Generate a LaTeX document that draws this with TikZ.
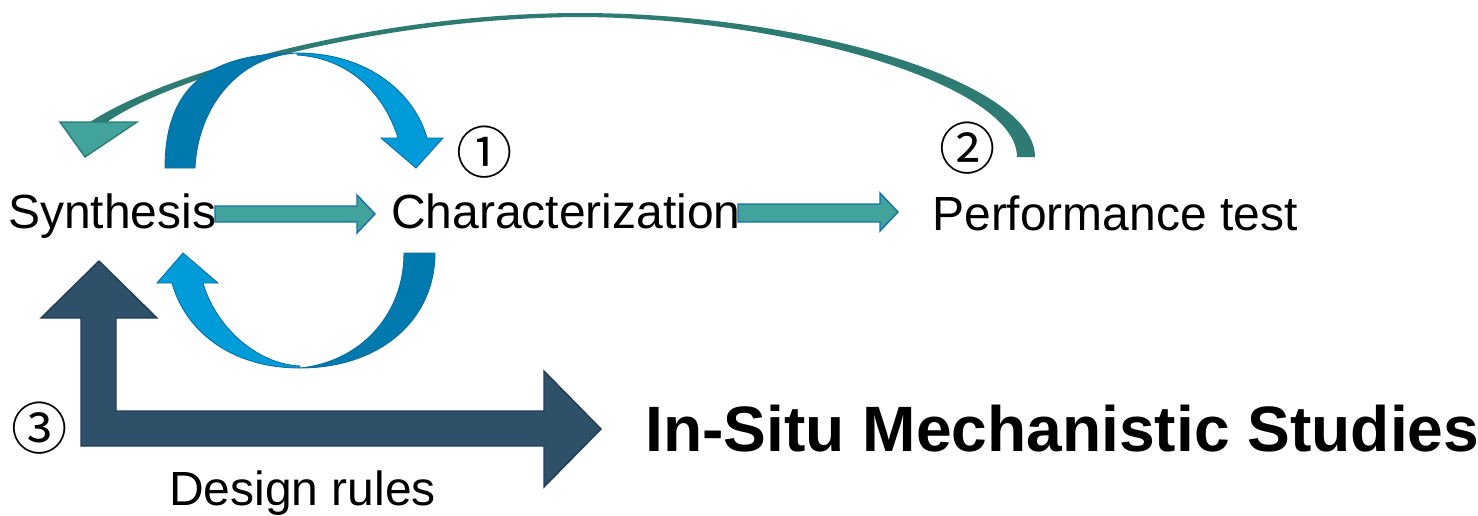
\documentclass[tikz,border=0pt]{standalone}
\usepackage{fontspec}
\setmainfont{Liberation Sans}
\newfontfamily\circfont{Noto Sans CJK SC}
\usepackage{tikz}
\definecolor{arcdark}{HTML}{0079AE}
\definecolor{arclight}{HTML}{009BD9}
\definecolor{arcedge}{HTML}{0A6E9E}
\definecolor{tealfill}{HTML}{42A39C}
\definecolor{tealedge}{HTML}{1C6FA5}
\definecolor{loopteal}{HTML}{2E7B74}
\definecolor{slate}{HTML}{2F5069}
\definecolor{slateedge}{HTML}{223D55}

\begin{document}
\begin{tikzpicture}[x=0.02cm, y=-0.02cm,
    every node/.style={inner sep=0pt, anchor=base west},
    label/.style={font=\fontsize{27.3}{30}\selectfont},
    num/.style={anchor=center, font=\circfont\fontsize{32}{32}\selectfont},
    blockarrow/.style={fill=tealfill, draw=tealedge, line width=0.8pt},
    bluearc/.style={draw=arcedge, line width=0.5pt}]
  \useasboundingbox (0,0) rectangle (1478,515);

  \node[label] (syn) at (8,228) {Synthesis};
  \node[label] (char) at (391,228) {Characterization};
  \node[label] (perf) at (932,230) {Performance test};
  \node[label] (rules) at (169,505) {Design rules};
  \node[font=\bfseries\fontsize{36.5}{40}\selectfont] (studies) at (645,451) {In-Situ Mechanistic Studies};

  \node[num] (n1) at (485,152) {①};
  \node[num] (n2) at (968,148) {②};
  \node[num] (n3) at (40,428) {③};

  \fill[loopteal] (1035,157) .. controls (1035,80) and (800,13) .. (580,13)
    .. controls (380,13) and (170,70) .. (90,122) -- (107,122)
    .. controls (180,72) and (385,18) .. (580,17)
    .. controls (790,18) and (1017,85) .. (1017,157) -- cycle;
  \filldraw[fill=tealfill, draw=loopteal, line width=0.8pt] (60,122) -- (137,122) -- (85,157) -- cycle;

  \filldraw[bluearc, fill=arcdark] (165,168) .. controls (165,90) and (205,53) .. (297,53)
    .. controls (240,56) and (198,105) .. (195,168) -- cycle;
  \filldraw[bluearc, fill=arclight] (297,53) .. controls (370,53) and (415,95) .. (427,138)
    -- (443,138) -- (416,168) -- (381,138) -- (398,138)
    .. controls (385,95) and (350,58) .. (297,55) -- cycle;

  \filldraw[bluearc, fill=arcdark] (435,253) .. controls (435,320) and (380,368) .. (300,368)
    .. controls (360,362) and (404,315) .. (404,253) -- cycle;
  \filldraw[bluearc, fill=arclight] (300,368) .. controls (230,368) and (185,330) .. (172,283)
    -- (157,283) -- (183,253) -- (218,283) -- (203,283)
    .. controls (215,325) and (255,364) .. (300,366) -- cycle;

  \filldraw[fill=slate, draw=slateedge, line width=0.8pt] (81,446) -- (81,318) -- (41,318) -- (99,261)
    -- (157,318) -- (116,318) -- (116,411) -- (544,411) -- (544,371) -- (601,429)
    -- (544,487) -- (544,446) -- cycle;

  \filldraw[blockarrow] (215,206) -- (357,206) -- (357,195) -- (375,214) -- (357,233) -- (357,222) -- (215,222) -- cycle;
  \filldraw[blockarrow] (738,204) -- (880,204) -- (880,193) -- (898,212) -- (880,231) -- (880,222) -- (738,222) -- cycle;
\end{tikzpicture}
\end{document}
